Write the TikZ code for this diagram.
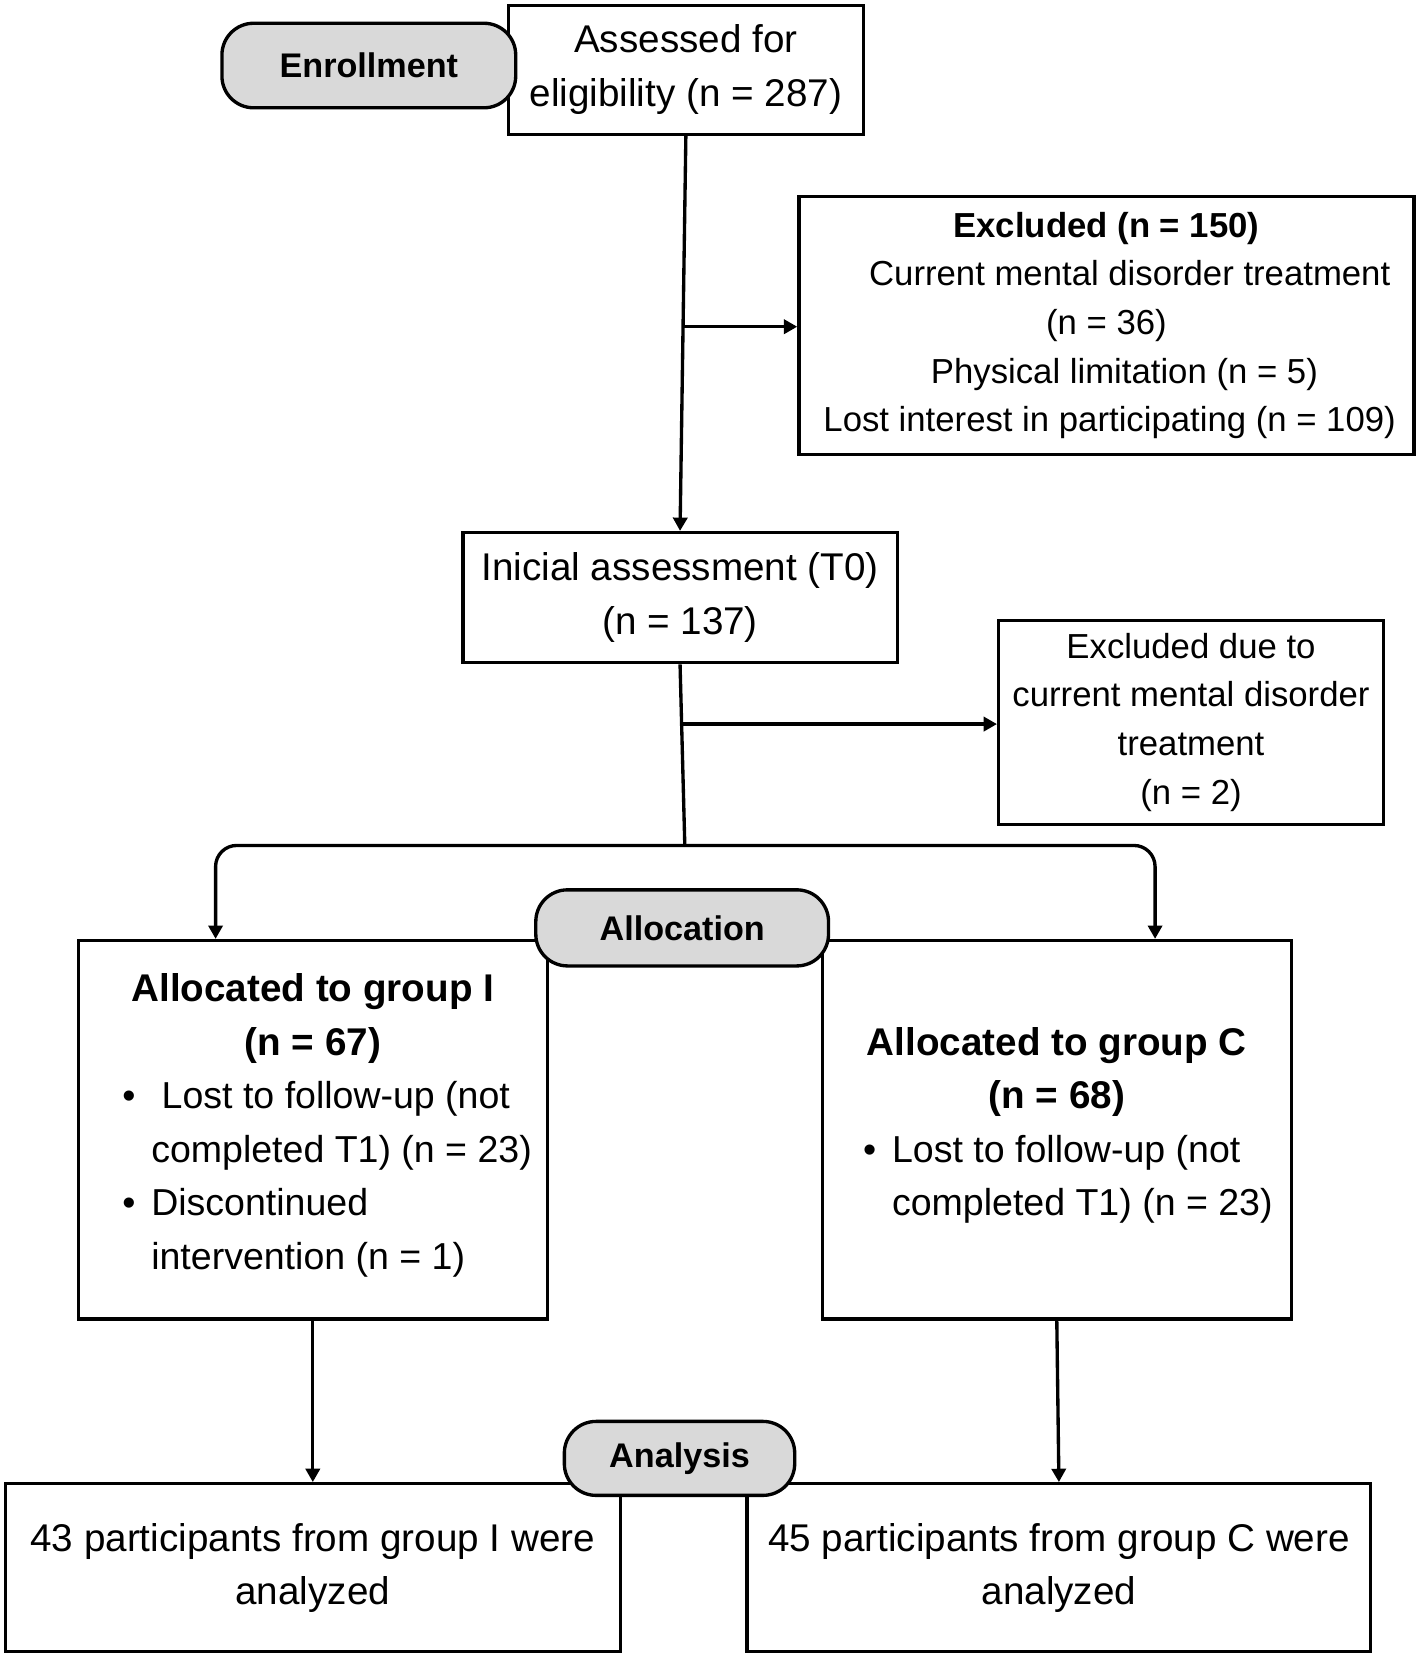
\documentclass[tikz,border=0pt]{standalone}
\usepackage{fontspec}
\setmainfont{Liberation Sans}
\usetikzlibrary{arrows.meta,calc}
\definecolor{pillgray}{RGB}{217,217,217}

\begin{document}
\begin{tikzpicture}[
bx/.style = {draw, line width=0.9pt, align=center, inner sep=0pt, font=\fontsize{10.4}{14.4}\selectfont},
sbx/.style = {bx, font=\fontsize{9.35}{13.1}\selectfont},
pill/.style = {draw, line width=0.9pt, rounded corners=0.3cm, fill=pillgray, inner sep=0pt, font=\fontsize{9.2}{11}\selectfont\bfseries},
arr/.style = {-{Triangle[length=3.6pt,width=3.8pt]}, line width=0.9pt}
]
  \useasboundingbox (0,0) rectangle (13.41,-15.67);

  % boxes
  \node[bx, minimum width=3.36cm, minimum height=1.22cm] (assess) at (6.49,-0.66) {Assessed for\\eligibility (n = 287)};
  \node[sbx, minimum width=5.82cm, minimum height=2.44cm] (excl) at (10.47,-3.08) {\textbf{Excluded (n = 150)}\\\hspace{0.44cm}Current mental disorder treatment\\(n = 36)\\\hspace{0.34cm}Physical limitation (n = 5)\\\hspace{0.06cm}Lost interest in participating (n = 109)};
  \node[bx, minimum width=4.11cm, minimum height=1.23cm] (init) at (6.435,-5.655) {Inicial assessment (T0)\\(n = 137)};
  \node[sbx, minimum width=3.64cm, minimum height=1.93cm] (excl2) at (11.27,-6.835) {Excluded due to\\current mental disorder\\treatment\\(n = 2)};
  \node[bx, minimum width=4.44cm, minimum height=3.58cm] (grpI) at (2.96,-10.69) {\textbf{Allocated to group I}\\\textbf{(n = 67)}\\\hspace{0.27cm}{\fontsize{10.1}{14.4}\selectfont\begin{tabular}[t]{@{}l@{\hspace{0.15cm}}l@{}}\textbullet & \ Lost to follow-up (not\\ & completed T1) (n = 23)\\ \textbullet & Discontinued\\ & intervention (n = 1)\end{tabular}}};
  \node[bx, minimum width=4.44cm, minimum height=3.58cm] (grpC) at (10.00,-10.69) {\textbf{Allocated to group C}\\\textbf{(n = 68)}\\\hspace{0.21cm}{\fontsize{10.1}{14.4}\selectfont\begin{tabular}[t]{@{}l@{\hspace{0.15cm}}l@{}}\textbullet & Lost to follow-up (not\\ & completed T1) (n = 23)\end{tabular}}};
  \node[bx, minimum width=5.82cm, minimum height=1.59cm] (anaI) at (2.96,-14.835) {43 participants from group I were\\analyzed};
  \node[bx, minimum width=5.90cm, minimum height=1.59cm] (anaC) at (10.02,-14.835) {45 participants from group C were\\analyzed};

  % connectors
  \coordinate (b1) at ($(assess.south)!0.483!(init.north)$);
  \coordinate (split) at (6.48,-8.00);
  \coordinate (b2) at ($(init.south)!0.33!(split)$);
  \draw[arr] (assess.south) -- (init.north);
  \draw[arr] (b1) -- (b1 -| excl.west);
  \draw[line width=0.9pt] (init.south) -- (split);
  \draw[arr] (b2) -- (b2 -| excl2.west);
  \draw[arr, rounded corners=0.2cm] (split) -| ([xshift=-0.92cm]grpI.north);
  \draw[arr, rounded corners=0.2cm] (split) -| ([xshift=0.93cm]grpC.north);
  \draw[arr] (grpI.south) -- (anaI.north);
  \draw[arr] (grpC.south) -- (anaC.north);

  % stage labels
  \node[pill, minimum width=2.78cm, minimum height=0.80cm] (enroll) at (3.49,-0.62) {Enrollment};
  \node[pill, minimum width=2.77cm, minimum height=0.72cm] (alloc) at (6.455,-8.78) {Allocation};
  \node[pill, minimum width=2.18cm, minimum height=0.70cm] (analysis) at (6.43,-13.80) {Analysis};
\end{tikzpicture}
\end{document}
